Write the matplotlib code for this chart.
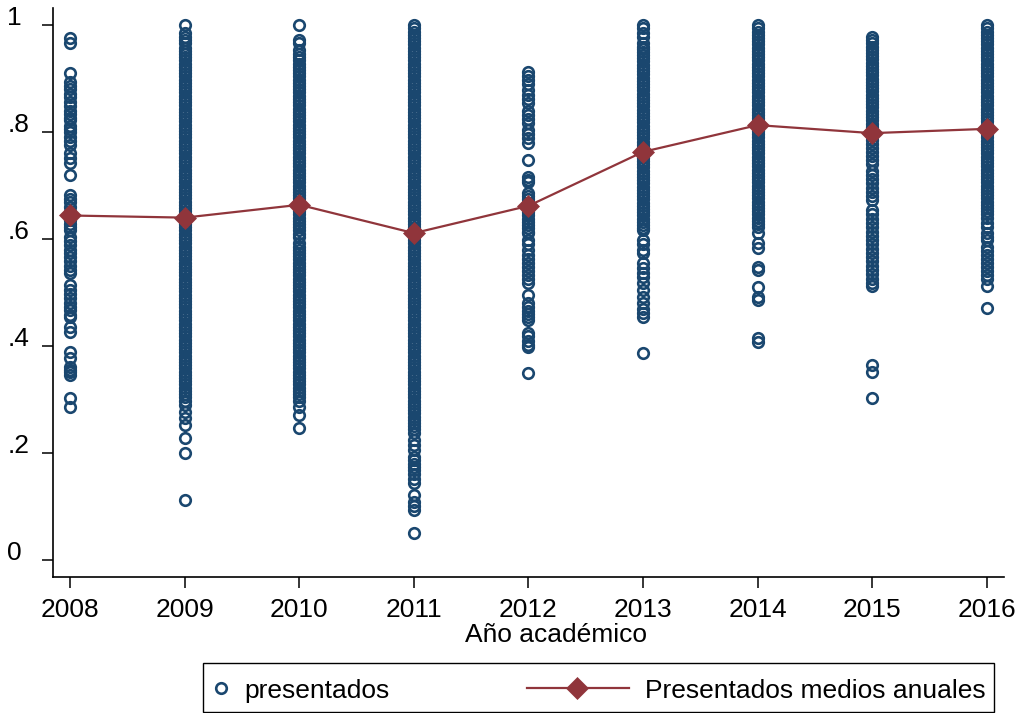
import numpy as np
import matplotlib
matplotlib.use("Agg")
import matplotlib.pyplot as plt
from matplotlib.lines import Line2D
from matplotlib.patches import Rectangle

plt.rcParams['font.family'] = ['Liberation Sans', 'DejaVu Sans']

years = [2008, 2009, 2010, 2011, 2012, 2013, 2014, 2015, 2016]
year_labels = ["2008", "2009", "2010", "2011", "2012", "2013", "2014", "2015", "2016"]
y_ticks = [0, 0.2, 0.4, 0.6, 0.8, 1.0]
y_tick_labels = ["0", ".2", ".4", ".6", ".8", "1"]

# Annual means (Presentados medios anuales)
mean_presentados = [0.644, 0.640, 0.664, 0.611, 0.662, 0.763, 0.813, 0.798, 0.806]

pres_2008 = [976, 966, 910, 893, 886, 880, 872, 865, 856, 848, 840, 833, 826, 822, 812, 806,
             800, 790, 783, 776, 760, 752, 742, 720, 682, 675, 669, 660, 650, 635, 628, 622,
             617, 604, 596, 588, 580, 574, 566, 558, 550, 543, 536, 514, 505, 498, 490, 480,
             472, 467, 458, 454, 435, 426, 389, 377, 361, 355, 351, 346, 303, 286]
pres_2009 = [1000, 985, 978, 972, 966, 958, 952, 946, 940, 934, 928, 922, 916, 910, 904, 898,
             892, 886, 880, 874, 868, 862, 856, 850, 844, 838, 832, 826, 820, 814, 808, 802,
             796, 790, 784, 778, 772, 766, 760, 754, 748, 742, 736, 730, 724, 718, 712, 706,
             700, 694, 688, 682, 676, 670, 664, 658, 652, 646, 640, 634, 628, 622, 616, 610,
             604, 598, 592, 586, 580, 574, 568, 562, 556, 550, 544, 538, 532, 526, 520, 514,
             508, 502, 496, 490, 484, 478, 472, 466, 460, 454, 448, 442, 436, 430, 424, 418,
             412, 406, 400, 394, 388, 382, 376, 370, 364, 358, 352, 346, 340, 334, 328, 322,
             316, 310, 304, 298, 290, 277, 265, 252, 228, 200, 112]
pres_2010 = [1000, 972, 966, 953, 946, 940, 934, 928, 922, 916, 910, 904, 898, 892, 886, 880,
             874, 868, 862, 856, 850, 844, 838, 832, 826, 820, 814, 808, 802, 796, 790, 784,
             778, 772, 766, 760, 754, 748, 742, 736, 730, 724, 718, 712, 706, 700, 694, 688,
             682, 676, 670, 664, 658, 652, 646, 640, 634, 628, 622, 616, 610, 604, 592, 586,
             580, 574, 568, 562, 556, 550, 544, 538, 532, 526, 520, 514, 508, 502, 496, 490,
             484, 478, 472, 466, 460, 454, 448, 442, 436, 430, 424, 418, 412, 406, 400, 394,
             388, 382, 376, 370, 364, 358, 352, 346, 340, 334, 328, 322, 316, 310, 304, 298,
             285, 271, 247]
pres_2011 = [1000, 994, 988, 982, 976, 970, 964, 958, 952, 946, 940, 934, 928, 922, 916, 910,
             904, 898, 892, 886, 880, 874, 868, 862, 856, 850, 844, 838, 832, 826, 820, 814,
             808, 802, 796, 790, 784, 778, 772, 766, 760, 754, 748, 742, 736, 730, 724, 718,
             712, 706, 700, 694, 688, 682, 676, 670, 664, 658, 652, 646, 640, 634, 628, 622,
             616, 610, 604, 598, 592, 586, 580, 574, 568, 562, 556, 550, 544, 538, 532, 526,
             520, 514, 508, 502, 496, 490, 484, 478, 472, 466, 460, 454, 448, 442, 436, 430,
             424, 418, 412, 406, 400, 394, 388, 382, 376, 370, 364, 358, 352, 346, 340, 334,
             328, 322, 316, 310, 304, 298, 292, 286, 280, 274, 268, 262, 256, 250, 244, 238,
             224, 215, 205, 193, 187, 180, 174, 168, 160, 152, 144, 121, 108, 100, 93, 50]
pres_2012 = [912, 905, 898, 890, 878, 870, 862, 854, 840, 832, 824, 817, 804, 796, 788, 780,
             748, 716, 710, 707, 686, 680, 674, 668, 662, 656, 650, 644, 638, 632, 626, 620,
             614, 611, 598, 590, 580, 570, 562, 555, 548, 540, 532, 525, 518, 495, 480, 473,
             466, 460, 454, 449, 424, 418, 410, 402, 398, 349]
pres_2013 = [1000, 994, 986, 978, 966, 960, 955, 950, 944, 938, 932, 926, 920, 914, 908, 902,
             896, 890, 884, 878, 872, 866, 860, 854, 848, 842, 836, 830, 824, 818, 812, 806,
             800, 794, 788, 782, 776, 770, 764, 758, 752, 746, 740, 734, 728, 722, 716, 710,
             704, 698, 692, 686, 680, 674, 668, 662, 656, 650, 644, 638, 632, 626, 620, 617,
             598, 590, 580, 574, 555, 545, 536, 529, 517, 505, 492, 480, 470, 462, 454, 387]
pres_2014 = [1000, 994, 988, 982, 976, 970, 964, 958, 952, 946, 940, 934, 928, 922, 916, 910,
             904, 898, 892, 886, 880, 874, 868, 862, 856, 850, 844, 838, 832, 826, 820, 814,
             808, 802, 796, 790, 784, 778, 772, 766, 760, 754, 748, 742, 736, 730, 724, 718,
             712, 706, 700, 694, 688, 682, 676, 670, 664, 658, 652, 646, 640, 634, 628, 622,
             611, 593, 583, 548, 542, 510, 492, 486, 415, 407]
pres_2015 = [978, 972, 966, 960, 954, 948, 942, 936, 930, 924, 918, 912, 906, 900, 894, 888,
             882, 876, 870, 864, 858, 852, 846, 840, 834, 828, 822, 816, 810, 804, 798, 792,
             786, 778, 770, 762, 755, 747, 740, 728, 720, 712, 704, 696, 688, 680, 673, 654,
             646, 638, 630, 622, 614, 606, 598, 590, 582, 574, 566, 558, 550, 542, 534, 526,
             518, 512, 365, 352, 303]
pres_2016 = [1000, 994, 988, 982, 976, 970, 964, 958, 952, 946, 940, 934, 928, 922, 916, 910,
             904, 898, 892, 886, 880, 874, 868, 862, 856, 850, 844, 838, 832, 826, 820, 814,
             808, 802, 796, 790, 784, 778, 772, 766, 760, 754, 748, 742, 736, 730, 724, 718,
             712, 706, 700, 694, 688, 682, 676, 670, 664, 658, 652, 646, 640, 630, 622, 612,
             604, 598, 586, 578, 570, 562, 555, 548, 540, 532, 525, 512, 471]

observations = [pres_2008, pres_2009, pres_2010, pres_2011, pres_2012,
                pres_2013, pres_2014, pres_2015, pres_2016]

navy = "#1a476f"
maroon = "#90353b"

W, H = 1019, 713
fig = plt.figure(figsize=(W / 100, H / 100), dpi=100)
ax = fig.add_axes([53 / W, 1 - 577 / H, (1004 - 53) / W, (577 - 8) / H])

for yr, obs in zip(years, observations):
    vals = np.array(obs) / 1000.0
    ax.plot(np.full(len(vals), yr), vals, linestyle='none', marker='o', ms=7.6,
            mfc='none', mec=navy, mew=1.9, zorder=2)

ax.plot(years, mean_presentados, color=maroon, lw=1.6, marker='D', ms=11.5,
        mfc=maroon, mec=maroon, mew=0.5, zorder=3)

ax.set_xlim(2007.85, 2016.15)
ax.set_ylim(-0.032, 1.032)
ax.set_xticks(years)
ax.set_xticklabels(year_labels)
ax.set_yticks(y_ticks)
ax.set_yticklabels(y_tick_labels)
for s in ['top', 'right']:
    ax.spines[s].set_visible(False)
for s in ['left', 'bottom']:
    ax.spines[s].set_linewidth(1.2)
    ax.spines[s].set_color('black')
ax.tick_params(axis='both', direction='out', length=8, width=1.1, labelsize=19,
               colors='black')
ax.tick_params(axis='x', pad=7)
ax.tick_params(axis='y', pad=25)
for lab in ax.get_yticklabels():
    lab.set_horizontalalignment('left')
    lab.set_verticalalignment('baseline')
ax.set_xlabel("Año académico", fontsize=19)
ax.xaxis.set_label_coords((556 - 53) / (1004 - 53), -0.081)

# Legend box (drawn in figure pixel positions)
def fx(px):
    return px / W

def fy(py):
    return 1 - py / H

fig.add_artist(Rectangle((fx(203), fy(712)), fx(994) - fx(203), fy(663) - fy(712),
                         transform=fig.transFigure, fill=False, ec='black', lw=1.0))
fig.add_artist(Line2D([fx(221)], [fy(688)], transform=fig.transFigure, linestyle='none',
                      marker='o', ms=7.6, mfc='none', mec=navy, mew=1.9))
fig.text(fx(244), fy(698), "presentados", fontsize=19, ha='left', va='baseline')
fig.add_artist(Line2D([fx(527), fx(629)], [fy(688), fy(688)], transform=fig.transFigure,
                      color=maroon, lw=1.6))
fig.add_artist(Line2D([fx(577)], [fy(688)], transform=fig.transFigure, linestyle='none',
                      marker='D', ms=11.5, mfc=maroon, mec=maroon, mew=0.5))
fig.text(fx(645), fy(698), "Presentados medios anuales", fontsize=19, ha='left',
         va='baseline')

fig.savefig("out.png", dpi=100)
